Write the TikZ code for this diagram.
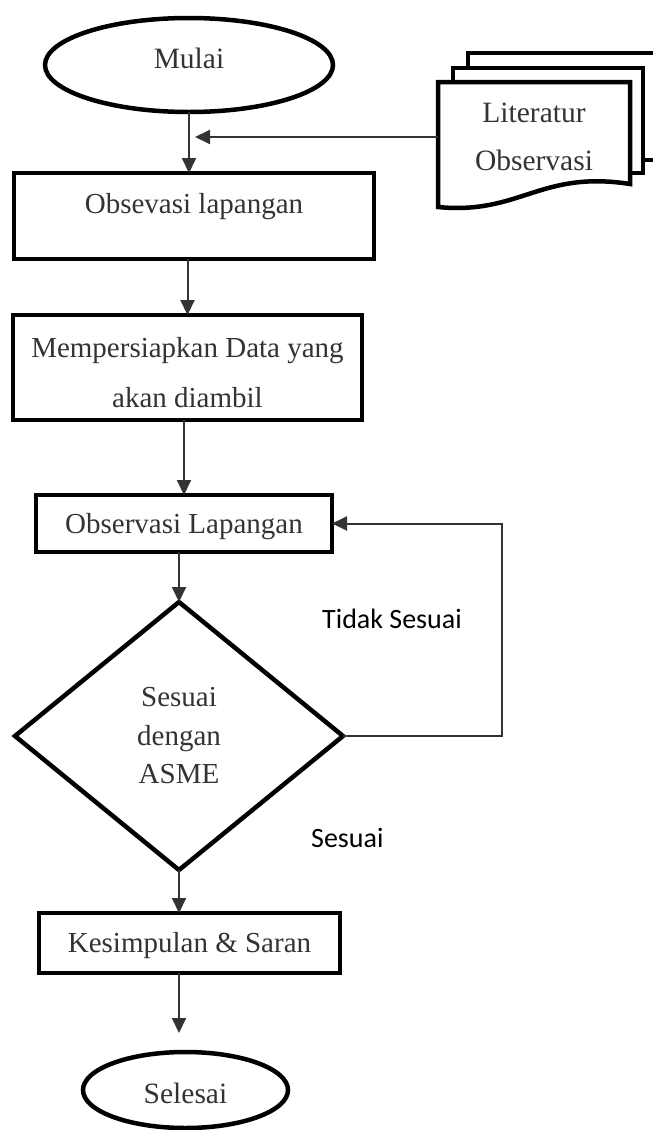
\documentclass[tikz,border=0pt]{standalone}
\usepackage{fontspec}
\setmainfont{Liberation Serif}
\newfontfamily\lblfont{Carlito}
\usetikzlibrary{shapes.geometric,arrows.meta}
\begin{document}
\begin{tikzpicture}[x=1pt,y=-1pt,
  box/.style={draw=black, line width=4.5pt, rectangle, inner sep=0pt, outer sep=0pt,
    fill=white, text=black!80, font=\fontsize{29}{50}\selectfont, align=flush center},
  term/.style={draw=black, line width=4.5pt, ellipse, inner sep=0pt, outer sep=0pt,
    text=black!80, font=\fontsize{29.5}{35}\selectfont},
  decision/.style={draw=black, line width=4.5pt, diamond, inner sep=0pt, outer sep=0pt,
    text=black!80, font=\fontsize{29}{38.5}\selectfont, align=flush center, text width=110pt},
  doctext/.style={inner sep=0pt, text=black!80, font=\fontsize{29.5}{48}\selectfont,
    align=flush center, text width=190pt},
  conn/.style={draw=black!80, line width=2pt, -{Triangle[length=15pt,width=14pt]}},
  lbl/.style={inner sep=0pt, font=\lblfont\fontsize{28}{34}\selectfont, text=black},
  docshape/.style={draw=black, line width=4.5pt, fill=white, line join=miter},
]
\useasboundingbox (0,0) rectangle (653,1130);

% document stack
\begin{scope}
\clip (0,0) rectangle (653,1130);
\draw[docshape] (468,53) -- (668,53) -- (668,160) -- (468,160) -- cycle;
\draw[docshape] (453,68) rectangle (643,173);
\draw[docshape] (438,82) -- (630,82) -- (630,184)
  .. controls (540,170) and (520,215) .. (438,207) -- cycle;
\end{scope}
\node[doctext, anchor=base] (lit) at (534,122) {Literatur\\Observasi};
\coordinate (litL) at (438,137);

% main flow
\node[term, minimum width=288pt, minimum height=94pt, text height=20pt, text depth=14pt]
  (mulai) at (189,65) {Mulai};
\node[box, minimum width=360pt, minimum height=86pt, text height=20pt, text depth=26pt]
  (r1) at (194,216) {Obsevasi lapangan};
\node[box, minimum width=349pt, minimum height=105pt, text width=349pt,
  text height=20pt, text depth=41pt]
  (r2) at (187.5,367.5) {Mempersiapkan Data yang\\akan diambil};
\node[box, minimum width=296pt, minimum height=57pt, text height=20pt, text depth=1pt]
  (r3) at (184,523.5) {Observasi Lapangan};
\node[decision, minimum width=328pt, minimum height=268pt]
  (dia) at (179,736) {Sesuai\\dengan\\ASME};
\node[box, minimum width=301pt, minimum height=60pt, text height=20pt, text depth=2pt]
  (r4) at (189.5,943) {Kesimpulan \& Saran};
\node[term, minimum width=205pt, minimum height=76pt, text height=26pt, text depth=0pt]
  (sel) at (185.5,1090) {Selesai};

\coordinate (jn) at (mulai.south |- litL);

% connectors
\draw[conn] (mulai.south) -- (mulai.south |- r1.north);
\draw[conn, shorten >=6pt] (litL) -- (jn);
\draw[conn] (r1.south -| r2.north) -- (r2.north);
\draw[conn] (r2.south -| r3.north) -- (r3.north);
\draw[conn] (r3.south -| dia.north) -- (dia.north);
\draw[conn] (dia.south) -- (dia.south |- r4.north);
\draw[conn, shorten >=19pt] (r4.south -| dia.south) -- (sel.north -| dia.south);
\draw[conn] (dia.east) -- (502,736) |- (r3.east);

% labels
\node[lbl, anchor=base west] (tidak) at (322,628) {Tidak Sesuai};
\node[lbl, anchor=base west] (sesuai) at (311,847) {Sesuai};
\end{tikzpicture}
\end{document}
